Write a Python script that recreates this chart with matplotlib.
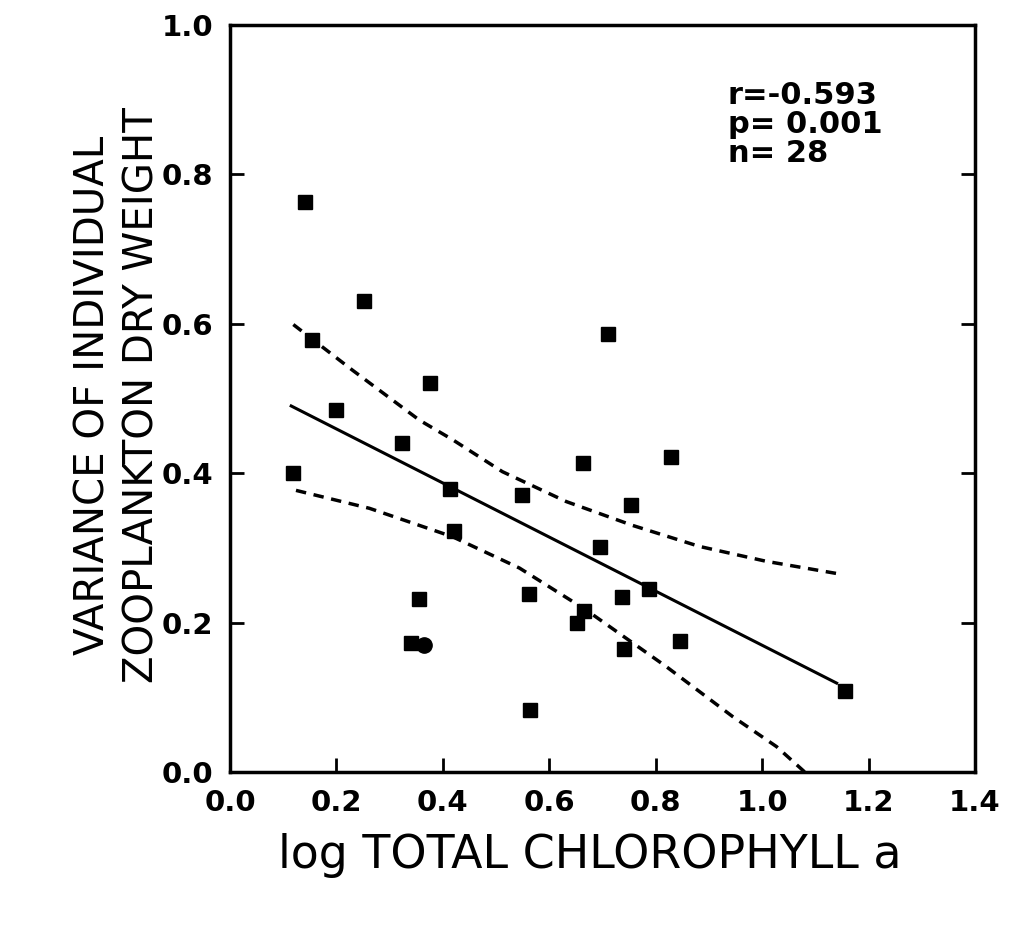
import matplotlib
matplotlib.use("Agg")
import matplotlib.pyplot as plt

# observed points (log chlorophyll a, variance of dry weight)
chl_sq = [0.141, 0.252, 0.155, 0.376, 0.200, 0.323, 0.119, 0.663, 0.413, 0.548,
          0.421, 0.696, 0.356, 0.561, 0.666, 0.653, 0.340, 0.710, 0.829, 0.753,
          0.788, 0.737, 0.845, 0.740, 0.563, 1.155]
var_sq = [0.763, 0.630, 0.578, 0.521, 0.485, 0.441, 0.400, 0.413, 0.379, 0.371,
          0.322, 0.301, 0.231, 0.238, 0.215, 0.199, 0.173, 0.586, 0.422, 0.357,
          0.245, 0.234, 0.176, 0.164, 0.083, 0.109]
chl_circ = [0.365]
var_circ = [0.170]

# regression line
fit_x = [0.115, 1.14]
fit_y = [0.490, 0.119]

# confidence bands
upper_x = [0.119, 0.230, 0.356, 0.418, 0.512, 0.632, 0.757, 0.882, 1.008, 1.146]
upper_y = [0.599, 0.538, 0.471, 0.445, 0.402, 0.362, 0.330, 0.302, 0.282, 0.265]
lower_x = [0.124, 0.262, 0.418, 0.544, 0.669, 0.820, 0.945, 1.027, 1.08]
lower_y = [0.377, 0.353, 0.315, 0.273, 0.217, 0.141, 0.074, 0.034, 0.0]

xticks = [0.0, 0.2, 0.4, 0.6, 0.8, 1.0, 1.2, 1.4]
yticks = [0.0, 0.2, 0.4, 0.6, 0.8, 1.0]

fig = plt.figure(figsize=(10.13, 9.39), dpi=100)
ax = fig.add_axes([230 / 1013, 1 - 772 / 939, 745 / 1013, 747 / 939])

ax.plot(fit_x, fit_y, color="black", lw=2.2)
ax.plot(upper_x, upper_y, color="black", lw=2.5, ls=(0, (3, 2.2)))
ax.plot(lower_x, lower_y, color="black", lw=2.5, ls=(0, (3, 2.2)))
ax.plot(chl_sq, var_sq, ls="none", marker="s", ms=10.5, color="black")
ax.plot(chl_circ, var_circ, ls="none", marker="o", ms=11, color="black")

ax.set_xlim(0, 1.4)
ax.set_ylim(0, 1.0)
ax.set_xticks(xticks)
ax.set_yticks(yticks)
ax.set_xticklabels([f"{v:.1f}" for v in xticks])
ax.set_yticklabels([f"{v:.1f}" for v in yticks])
ax.tick_params(direction="in", length=10, width=2, top=False, right=True,
               labelsize=21, pad=12)
for lab in ax.get_xticklabels() + ax.get_yticklabels():
    lab.set_fontweight("bold")
for s in ax.spines.values():
    s.set_linewidth(2.5)

ax.text(0.668, 0.925, "r=-0.593\np= 0.001\nn= 28", transform=ax.transAxes,
        fontsize=22, fontweight="bold", va="top", ha="left", linespacing=1.0)

fig.text(590 / 1013, 1 - 855 / 939, "log TOTAL CHLOROPHYLL a", fontsize=33,
         ha="center", va="center")
fig.text(118 / 1013, 1 - 395 / 939, "VARIANCE OF INDIVIDUAL\nZOOPLANKTON DRY WEIGHT",
         fontsize=29, rotation=90, ha="center", va="center", linespacing=1.3)

fig.savefig("out.png", dpi=100)
